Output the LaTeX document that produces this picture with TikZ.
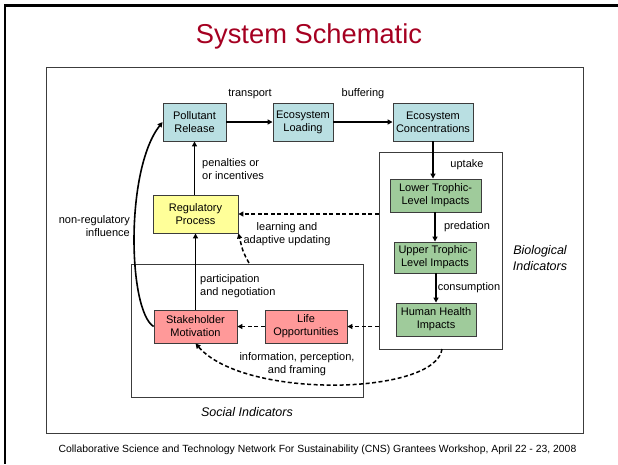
\documentclass[tikz,border=0pt]{standalone}
\usepackage{fontspec}
\setmainfont{Liberation Sans}
\usetikzlibrary{arrows.meta}
\definecolor{titlered}{HTML}{A50021}
\definecolor{boxcyan}{HTML}{B9DFE2}
\definecolor{boxyellow}{HTML}{FFFF99}
\definecolor{boxgreen}{HTML}{9FCB9B}
\definecolor{boxpink}{HTML}{FF9999}
\definecolor{edgegray}{HTML}{3C3C3C}
\tikzset{
  every node/.style={font=\fontsize{11}{13}\selectfont, inner sep=0pt},
  block/.style={draw=edgegray, line width=0.9pt, align=center},
  cyanbox/.style={block, fill=boxcyan},
  yellowbox/.style={block, fill=boxyellow},
  greenbox/.style={block, fill=boxgreen},
  pinkbox/.style={block, fill=boxpink},
  group/.style={draw=edgegray, line width=0.8pt},
  flow/.style={line width=1.6pt, -{Triangle[length=5pt,width=5pt]}},
  feedback/.style={line width=1.5pt, dash pattern=on 4pt off 2.5pt, -{Triangle[length=5pt,width=5pt]}},
  lbl/.style={align=center},
  grouplbl/.style={align=center, font=\fontsize{12.5}{15.5}\selectfont\itshape},
}
\begin{document}
\begin{tikzpicture}[x=1pt, y=-1pt]
\useasboundingbox (0,0) rectangle (618,464);

% slide frame and title
\draw[line width=2.6pt] (4,5.5) -- (618,5.5);
\draw[line width=2.6pt] (5,4.5) -- (5,464);
\node[text=titlered, font=\fontsize{27.3}{30}\selectfont] (title) at (309,36) {System Schematic};
\node[font=\fontsize{10.4}{12}\selectfont] (footer) at (317.5,450) {Collaborative Science and Technology Network For Sustainability (CNS) Grantees Workshop, April 22 - 23, 2008};

% diagram panel
\draw[group] (46,67) rectangle (583,433);

% indicator groups
\node[group, minimum width=123pt, minimum height=197pt] (bio) at (440.5,250.5) {};
\node[group, minimum width=232pt, minimum height=133pt] (social) at (247,330.5) {};
\node[grouplbl] (biolbl) at (540,258) {Biological\\Indicators};
\node[grouplbl] (sociallbl) at (247,412) {Social Indicators};

% process blocks
\node[cyanbox, minimum width=63pt, minimum height=38pt] (release) at (194.5,122) {Pollutant\\Release};
\node[cyanbox, minimum width=60pt, minimum height=38pt] (loading) at (303,122) {Ecosystem\\Loading};
\node[cyanbox, minimum width=80pt, minimum height=38pt] (conc) at (433,122) {Ecosystem\\Concentrations};
\node[greenbox, minimum width=91pt, minimum height=33pt] (lower) at (435.5,195.5) {Lower Trophic-\\Level Impacts};
\node[greenbox, minimum width=82pt, minimum height=31pt] (upper) at (435,257.5) {Upper Trophic-\\Level Impacts};
\node[greenbox, minimum width=80pt, minimum height=33pt] (health) at (436,319.5) {Human Health\\Impacts};
\node[yellowbox, minimum width=85pt, minimum height=38pt] (reg) at (195.5,214) {Regulatory\\Process};
\node[pinkbox, minimum width=83pt, minimum height=33pt] (stake) at (195.5,326.5) {Stakeholder\\Motivation};
\node[pinkbox, minimum width=82pt, minimum height=33pt] (life) at (306,326.5) {Life\\Opportunities};

% main causal chain
\draw[flow] (release) -- (loading);
\draw[flow] (loading) -- (conc);
\draw[flow] (conc.south) -- (conc.south |- lower.north);
\draw[flow] (lower.south -| upper.north) -- (upper.north);
\draw[flow] (upper.south -| health.north) -- (health.north);
\draw[flow] (reg.north -| release.south) -- (release.south);
\draw[flow] (stake.north -| reg.south) -- (reg.south);
\draw[flow] (stake.west) .. controls (128,310) and (125,170) .. (release.west);

% feedback paths
\coordinate (bioreg) at (bio.west |- reg.east);
\coordinate (biolife) at (bio.west |- life.east);
\coordinate (biobot) at (442,349);
\coordinate (socialtop) at (249,263);
\draw[feedback] (bioreg) -- (reg.east);
\draw[feedback] (biolife) -- (life.east);
\draw[feedback] (life.west) -- (stake.east);
\draw[feedback] (socialtop) .. controls (243,252) .. (reg.south east);
\draw[feedback] (biobot) .. controls (436,395) and (245,400) .. (stake.south);

% connector labels
\node[lbl] (ltransport) at (250,94) {transport};
\node[lbl] (lbuffering) at (363,94) {buffering};
\node[lbl] (luptake) at (467,165) {uptake};
\node[lbl] (lpredation) at (467,227) {predation};
\node[lbl] (lconsumption) at (469,288) {consumption};
\node[align=left, anchor=west] (lpenalty) at (202,169.5) {penalties or\\or incentives};
\node[align=right, anchor=east] (lnonreg) at (130,226) {non-regulatory\\influence};
\node[lbl] (llearning) at (287,234.5) {learning and\\adaptive updating};
\node[align=left, anchor=west] (lparticip) at (200,286.5) {participation\\and negotiation};
\node[lbl] (linfo) at (297,364) {information, perception,\\and framing};
\end{tikzpicture}
\end{document}
